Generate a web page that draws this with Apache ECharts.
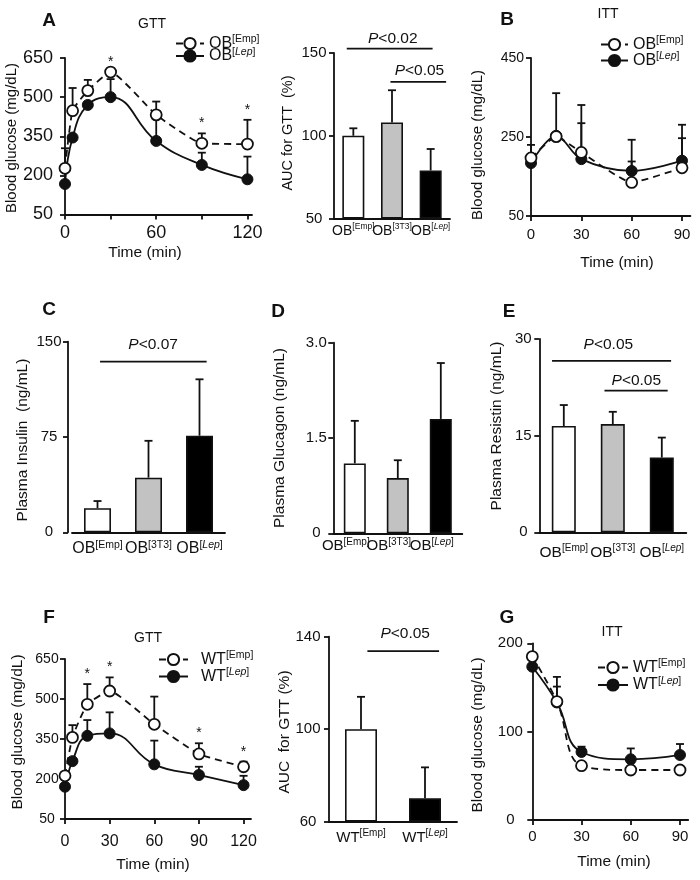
<!DOCTYPE html>
<html><head><meta charset="utf-8">
<script src="https://cdn.jsdelivr.net/npm/echarts@6/dist/echarts.min.js"></script>
<style>html,body{margin:0;padding:0;background:#fff}#c{width:700px;height:880px}</style>
</head><body><div id="c"></div><script>
const FONT = '"Liberation Sans", Arial, Helvetica, sans-serif';
const INK = '#111';

// ---------- DATA ----------
// A: GTT (OB mice)
const gttTimeA = [0, 5, 15, 30, 60, 90, 120];
const obEmpGttA = [227, 448, 525, 596, 432, 323, 320];
const obEmpGttErrTopA = [304, 535, 566, null, 483, 361, 413];
const obLepGttA = [167, 345, 470, 500, 332, 240, 185];
const obLepGttErrTopA = [null, null, null, 569, 430, 287, 272];
const starTimesA = [30, 90, 120];
const obGroups = ['OB[Emp]', 'OB[3T3]', 'OB[Lep]'];
const aucObA = [100, 108, 79];
const aucObErrTopA = [104.5, 127.5, 92];
const pValuesA = ['<0.02', '<0.05'];
// B: ITT (OB mice)
const ittTimeB = [0, 15, 30, 60, 90];
const obEmpIttB = [197, 251, 211, 135, 172];
const obEmpIttErrTopB = [230, null, 331, 188, 247];
const obLepIttB = [184, 253, 194, 164, 190];
const obLepIttErrTopB = [null, 361, 285, 243, 281];
// C: insulin
const insulinC = [19, 43, 76];
const insulinErrTopC = [24.6, 72, 120.4];
const pValuesC = ['<0.07'];
// D: glucagon
const glucagonD = [1.1, 0.87, 1.8];
const glucagonErrTopD = [1.77, 1.15, 2.68];
// E: resistin
const resistinE = [16.5, 16.8, 11.6];
const resistinErrTopE = [19.75, 18.7, 14.7];
const pValuesE = ['<0.05', '<0.05'];
// F: GTT (WT mice)
const gttTimeF = [0, 5, 15, 30, 60, 90, 120];
const wtEmpGttF = [212, 356, 480, 530, 405, 294, 246];
const wtEmpGttErrTopF = [null, 402, 556, 581, 509, 334, 265];
const wtLepGttF = [171, 267, 362, 371, 255, 215, 177];
const wtLepGttErrTopF = [null, null, 421, 450, 344, 246, 212];
const starTimesF = [15, 30, 90, 120];
const wtGroups = ['WT[Emp]', 'WT[Lep]'];
const aucWtF = [100, 70.1];
const aucWtErrTopF = [114, 83.5];
const pValuesF = ['<0.05'];
// G: ITT (WT mice)
const ittTimeG = [0, 15, 30, 60, 90];
const wtEmpIttG = [185, 134, 61.5, 56.6, 56.6];
const wtEmpIttErrTopG = [null, 151, null, null, null];
const wtLepIttG = [173.5, 133, 77, 68.7, 73.6];
const wtLepIttErrTopG = [null, 162, 83, 81, 86];
// tick values
const ticksA_x = [0, 30, 60, 90, 120], labelsA_x = [0, 60, 120];
const ticksA_y = [50, 200, 350, 500, 650];
const ticksAuc_A = [50, 100, 150];
const ticksB_x = [0, 30, 60, 90], ticksB_y = [50, 250, 450];
const ticksC_y = [0, 75, 150];
const ticksD_y = [0, 1.5, 3.0];
const ticksE_y = [0, 15, 30];
const ticksF_x = [0, 30, 60, 90, 120], ticksF_y = [50, 200, 350, 500, 650];
const ticksAuc_F = [60, 100, 140];
const ticksG_x = [0, 30, 60, 90], ticksG_y = [0, 100, 200];

// ---------- STYLE / LAYOUT ----------
const barColors3 = ['#ffffff', '#c2c2c2', '#000000'];
const barColors2 = ['#ffffff', '#000000'];

function richSet(size, sup) {
  return {
    m: { fontFamily: FONT, fontSize: size, color: INK, lineHeight: size + 3 },
    s: { fontFamily: FONT, fontSize: sup, color: INK, verticalAlign: 'top', lineHeight: sup + 1 },
    si: { fontFamily: FONT, fontSize: sup, color: INK, verticalAlign: 'top', lineHeight: sup + 1, fontStyle: 'italic' }
  };
}
function fmtName(name) {
  const m = name.match(/^(\w+)\[(.*)\]$/);
  if (!m) return name;
  if (m[2] === 'Lep') return '{m|' + m[1] + '}{s|[}{si|Lep}{s|]}';
  return '{m|' + m[1] + '}{s|[' + m[2] + ']}';
}

const grids = [
  { left: 65, top: 58, width: 187, height: 156.5 },     // 0 A line
  { left: 334, top: 53, width: 116, height: 165.5 },    // 1 A bar
  { left: 531, top: 58, width: 159.4, height: 158 },    // 2 B
  { left: 72, top: 341.7, width: 153, height: 190.6 },  // 3 C
  { left: 333.3, top: 342.7, width: 129, height: 190.6 },// 4 D
  { left: 539.3, top: 339, width: 147, height: 193.3 }, // 5 E
  { left: 65, top: 659, width: 186, height: 160 },      // 6 F line
  { left: 329, top: 636.7, width: 128, height: 185 },   // 7 F bar
  { left: 532.3, top: 643.3, width: 155.9, height: 176.7 } // 8 G
].map(g => Object.assign({ outerBoundsMode: 'none', containLabel: false }, g));

const axLine = { show: true, onZero: false, lineStyle: { color: INK, width: 1.8 } };
function valueAxis(gi, min, max, ticks, labels, fs, extra) {
  const lab = Object.assign({ show: true, color: INK, fontFamily: FONT, fontSize: fs, margin: 8, customValues: labels }, extra.label || {});
  return {
    type: 'value', gridIndex: gi, min, max, startValue: min,
    axisLine: axLine,
    axisTick: { show: true, inside: false, length: 5, lineStyle: { color: INK, width: 1.8 }, customValues: ticks },
    axisLabel: lab, splitLine: { show: false }, offset: extra.offset || 0
  };
}
function catAxis(gi, cats, fs, sup, margin, extraLabel) {
  return {
    type: 'category', gridIndex: gi, data: cats,
    axisLine: axLine, axisTick: { show: false },
    axisLabel: Object.assign({ interval: 0, margin, formatter: fmtName, rich: richSet(fs, sup), color: INK }, extraLabel || {}),
    splitLine: { show: false }
  };
}

const xAxes = [
  valueAxis(0, 0, 123, ticksA_x, labelsA_x, 18, { label: { margin: 10 } }),
  catAxis(1, obGroups, 14, 8.5, 4),
  valueAxis(2, 0, 95, ticksB_x, ticksB_x, 15, { label: { margin: 11 } }),
  catAxis(3, obGroups, 16, 10.5, 7),
  catAxis(4, obGroups, 15, 10, 4, { padding: [0, 18, 0, 0] }),
  catAxis(5, obGroups, 15.5, 10, 11),
  valueAxis(6, 0, 125, ticksF_x, ticksF_x, 16, { label: { margin: 15 } }),
  catAxis(7, wtGroups, 15, 10, 7),
  valueAxis(8, 0, 95, ticksG_x, ticksG_x, 15, { label: { margin: 9 } })
];
const yAxes = [
  valueAxis(0, 50, 650, ticksA_y, ticksA_y, 18, { label: { margin: 12 } }),
  valueAxis(1, 50, 150, ticksAuc_A, ticksAuc_A, 15, { label: { margin: 20, align: 'center' } }),
  valueAxis(2, 50, 450, ticksB_y, ticksB_y, 14, { label: { margin: 7 } }),
  valueAxis(3, 0, 150, ticksC_y, ticksC_y, 15, { label: { margin: 19, align: 'center' }, offset: 4 }),
  valueAxis(4, 0, 3, ticksD_y, ticksD_y, 15, { label: { margin: 17, align: 'center', formatter: v => v === 0 ? '0' : v.toFixed(1) } }),
  valueAxis(5, 0, 30, ticksE_y, ticksE_y, 15, { label: { margin: 16, align: 'center' } }),
  valueAxis(6, 50, 650, ticksF_y, ticksF_y, 14, { label: { margin: 18, align: 'center' } }),
  valueAxis(7, 60, 140, ticksAuc_F, ticksAuc_F, 15, { label: { margin: 21, align: 'center' } }),
  valueAxis(8, 0, 200, ticksG_y, ticksG_y, 15, { label: { margin: 22, align: 'center' } })
];

// ---------- SERIES BUILDERS ----------
function lineSeries(name, gi, times, vals, empty, smooth) {
  return {
    type: 'line', name, xAxisIndex: gi, yAxisIndex: gi,
    data: times.map((t, i) => [t, vals[i]]),
    symbol: 'circle', symbolSize: 11, smooth, z: empty ? 5 : 4, silent: true,
    lineStyle: { color: INK, width: 1.8, type: empty ? [7, 5] : 'solid' },
    itemStyle: empty ? { color: '#fff', borderColor: INK, borderWidth: 1.8 } : { color: INK, borderColor: INK, borderWidth: 1 }
  };
}
function errRows(xs, vals, tops) {
  const out = [];
  xs.forEach((x, i) => { if (tops[i] != null) out.push([x, vals[i], tops[i]]); });
  return out;
}
function errSeries(gi, rows, cap) {
  return {
    type: 'custom', xAxisIndex: gi, yAxisIndex: gi, z: 3, silent: true, data: rows,
    renderItem: (p, api) => {
      const a = api.coord([api.value(0), api.value(1)]);
      const b = api.coord([api.value(0), api.value(2)]);
      const st = { stroke: INK, lineWidth: 1.8, fill: null };
      return { type: 'group', children: [
        { type: 'line', shape: { x1: a[0], y1: a[1], x2: b[0], y2: b[1] }, style: st },
        { type: 'line', shape: { x1: b[0] - cap, y1: b[1], x2: b[0] + cap, y2: b[1] }, style: st }
      ] };
    }
  };
}
function starSeries(gi, times, starTimes, groups) {
  const rows = starTimes.map(t => {
    const i = times.indexOf(t);
    let m = -Infinity;
    groups.forEach(([v, tp]) => { m = Math.max(m, v[i], tp[i] == null ? -Infinity : tp[i]); });
    return [t, m];
  });
  return {
    type: 'custom', xAxisIndex: gi, yAxisIndex: gi, z: 6, silent: true, data: rows,
    renderItem: (p, api) => {
      const c = api.coord([api.value(0), api.value(1)]);
      return { type: 'text', x: c[0], y: c[1] - 10,
        style: { text: '*', font: '14px ' + FONT, fill: INK, align: 'center', verticalAlign: 'middle', textAlign: 'center', textVerticalAlign: 'middle' } };
    }
  };
}
function barSeries(gi, vals, colors, width) {
  return {
    type: 'bar', xAxisIndex: gi, yAxisIndex: gi, barWidth: width, z: 4, silent: true,
    data: vals.map((v, i) => ({ value: v, itemStyle: { color: colors[i] } })),
    itemStyle: { borderColor: INK, borderWidth: 1.6 }
  };
}
// significance brackets; positions given in category units relative to the first category
function bracketSeries(gi, brs, pvals) {
  return {
    type: 'custom', xAxisIndex: gi, yAxisIndex: gi, z: 6, silent: true,
    data: brs.map(b => [0, b.y]),
    renderItem: (p, api) => {
      const b = brs[p.dataIndex];
      const bw = api.size([1, 0])[0];
      const c = api.coord([0, b.y]);
      const ct = api.coord([0, b.ty]);
      return { type: 'group', children: [
        { type: 'line', shape: { x1: c[0] + b.x1 * bw, y1: c[1], x2: c[0] + b.x2 * bw, y2: c[1] }, style: { stroke: INK, lineWidth: 1.8 } },
        { type: 'text', x: c[0] + b.xt * bw, y: ct[1],
          style: { text: '{i|P}{n|' + pvals[p.dataIndex] + '}', align: 'center', verticalAlign: 'middle', textAlign: 'center', textVerticalAlign: 'middle',
            rich: { i: { fontFamily: FONT, fontSize: 15.5, fontStyle: 'italic', fill: INK, color: INK }, n: { fontFamily: FONT, fontSize: 15.5, fill: INK, color: INK } } } }
      ] };
    }
  };
}
function barErr(gi, vals, tops, cap) { return errSeries(gi, errRows(vals.map((v, i) => i), vals, tops), cap); }

const series = [
  // A line
  lineSeries('OB[Lep]', 0, gttTimeA, obLepGttA, false, 0.45),
  lineSeries('OB[Emp]', 0, gttTimeA, obEmpGttA, true, 0.15),
  errSeries(0, errRows(gttTimeA, obEmpGttA, obEmpGttErrTopA).concat(errRows(gttTimeA, obLepGttA, obLepGttErrTopA)), 4),
  starSeries(0, gttTimeA, starTimesA, [[obEmpGttA, obEmpGttErrTopA], [obLepGttA, obLepGttErrTopA]]),
  // A bar
  barSeries(1, aucObA, barColors3, 22), barErr(1, aucObA, aucObErrTopA, 4),
  bracketSeries(1, [
    { x1: -0.17, x2: 2.05, y: 152.7, ty: 158.9, xt: 1.02 },
    { x1: 0.96, x2: 2.4, y: 132.5, ty: 139.5, xt: 1.71 }], pValuesA),
  // B
  lineSeries('OB[Lep]', 2, ittTimeB, obLepIttB, false, 0.35),
  lineSeries('OB[Emp]', 2, ittTimeB, obEmpIttB, true, 0.15),
  errSeries(2, errRows(ittTimeB, obEmpIttB, obEmpIttErrTopB).concat(errRows(ittTimeB, obLepIttB, obLepIttErrTopB)), 4),
  // C
  barSeries(3, insulinC, barColors3, 27), barErr(3, insulinC, insulinErrTopC, 4),
  bracketSeries(3, [{ x1: 0.05, x2: 2.14, y: 134.3, ty: 147.4, xt: 1.09 }], pValuesC),
  // D
  barSeries(4, glucagonD, barColors3, 22), barErr(4, glucagonD, glucagonErrTopD, 4),
  // E
  barSeries(5, resistinE, barColors3, 24), barErr(5, resistinE, resistinErrTopE, 4),
  bracketSeries(5, [
    { x1: -0.24, x2: 2.19, y: 26.6, ty: 29.07, xt: 0.91 },
    { x1: 0.83, x2: 2.12, y: 22.0, ty: 23.6, xt: 1.48 }], pValuesE),
  // F line
  lineSeries('WT[Lep]', 6, gttTimeF, wtLepGttF, false, 0.45),
  lineSeries('WT[Emp]', 6, gttTimeF, wtEmpGttF, true, 0.15),
  errSeries(6, errRows(gttTimeF, wtEmpGttF, wtEmpGttErrTopF).concat(errRows(gttTimeF, wtLepGttF, wtLepGttErrTopF)), 4),
  starSeries(6, gttTimeF, starTimesF, [[wtEmpGttF, wtEmpGttErrTopF], [wtLepGttF, wtLepGttErrTopF]]),
  // F bar
  barSeries(7, aucWtF, barColors2, 32), barErr(7, aucWtF, aucWtErrTopF, 4),
  bracketSeries(7, [{ x1: 0.1, x2: 1.22, y: 133.8, ty: 141.5, xt: 0.69 }], pValuesF),
  // G
  lineSeries('WT[Lep]', 8, ittTimeG, wtLepIttG, false, 0.45),
  lineSeries('WT[Emp]', 8, ittTimeG, wtEmpIttG, true, 0.4),
  errSeries(8, errRows(ittTimeG, wtEmpIttG, wtEmpIttErrTopG).concat(errRows(ittTimeG, wtLepIttG, wtLepIttErrTopG)), 4)
];

function legend(name, left, top, w, pad) {
  return {
    data: [name], left, top, orient: 'vertical', padding: 0, itemWidth: w, itemHeight: 14,
    selectedMode: false, formatter: fmtName,
    textStyle: { color: INK, fontFamily: FONT, fontSize: 16, rich: richSet(16, 10.5), padding: [0, 0, 0, pad || 0] }
  };
}
const legends = [
  legend('OB[Emp]', 175, 34, 28), legend('OB[Lep]', 175, 46.5, 28),
  legend('OB[Emp]', 600, 35, 27), legend('OB[Lep]', 600, 51, 27),
  legend('WT[Emp]', 158, 650, 29, 8), legend('WT[Lep]', 158, 667, 29, 8),
  legend('WT[Emp]', 597, 658, 30), legend('WT[Lep]', 597, 675.5, 30)
];

// ---------- FREE TEXT ----------
function gt(x, y, text, size, weight, rot) {
  return { type: 'text', x, y, rotation: rot ? Math.PI / 2 : 0, silent: true, z: 10,
    style: { text, font: (weight || 'normal') + ' ' + size + 'px ' + FONT, fill: INK,
      align: 'center', verticalAlign: 'middle', textAlign: 'center', textVerticalAlign: 'middle' } };
}
const graphic = [
  gt(49, 21, 'A', 19, 'bold'), gt(507, 20, 'B', 19, 'bold'), gt(49, 310, 'C', 19, 'bold'),
  gt(278, 312, 'D', 19, 'bold'), gt(509, 312, 'E', 19, 'bold'), gt(49, 618, 'F', 19, 'bold'), gt(507, 618, 'G', 19, 'bold'),
  gt(152, 24, 'GTT', 14), gt(608, 14, 'ITT', 14), gt(148, 638, 'GTT', 14), gt(612, 632, 'ITT', 14),
  gt(145, 253, 'Time (min)', 15.5), gt(617, 263, 'Time (min)', 15.5), gt(153, 865, 'Time (min)', 15.5), gt(614, 862, 'Time (min)', 15.5),
  gt(12, 138, 'Blood glucose (mg/dL)', 15, null, true),
  gt(288, 133, 'AUC for GTT  (%)', 14.5, null, true),
  gt(478, 145, 'Blood glucose (mg/dL)', 15, null, true),
  gt(23, 440, 'Plasma Insulin  (ng/mL)', 15.5, null, true),
  gt(280, 438, 'Plasma Glucagon (ng/mL)', 15.5, null, true),
  gt(497, 426, 'Plasma Resistin (ng/mL)', 15.5, null, true),
  gt(18, 732, 'Blood glucose (mg/dL)', 15.5, null, true),
  gt(285, 732, 'AUC  for GTT (%)', 15.5, null, true),
  gt(478, 735, 'Blood glucose (mg/dL)', 15.5, null, true)
];

const chart = echarts.init(document.getElementById('c'), null, { renderer: 'canvas', width: 700, height: 880 });
chart.setOption({
  animation: false, backgroundColor: '#ffffff',
  grid: grids, xAxis: xAxes, yAxis: yAxes, series, legend: legends, graphic
});
</script></body></html>
